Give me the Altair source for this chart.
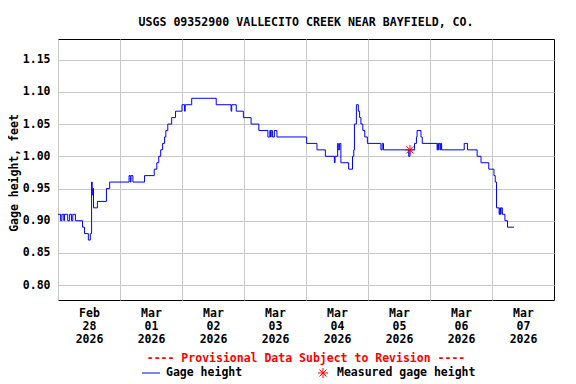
import altair as alt
import pandas as pd

TITLE = "USGS 09352900 VALLECITO CREEK NEAR BAYFIELD, CO."
Y_TITLE = "Gage height, feet"
NOTE = "---- Provisional Data Subject to Revision ----"
LEG_LINE = "Gage height"
LEG_POINT = "Measured gage height"

# Gage height (feet), step changes
gage_time = [
    "2026-02-28T00:00Z", "2026-02-28T01:00Z", "2026-02-28T01:30Z", "2026-02-28T02:15Z",
    "2026-02-28T02:30Z", "2026-02-28T03:45Z", "2026-02-28T04:30Z", "2026-02-28T05:15Z",
    "2026-02-28T05:45Z", "2026-02-28T06:45Z", "2026-02-28T09:30Z", "2026-02-28T10:15Z",
    "2026-02-28T11:45Z", "2026-02-28T12:30Z", "2026-02-28T13:00Z", "2026-02-28T13:15Z",
    "2026-02-28T13:30Z", "2026-02-28T13:45Z", "2026-02-28T15:15Z", "2026-02-28T18:45Z",
    "2026-02-28T20:00Z",
    "2026-03-01T03:30Z", "2026-03-01T04:00Z", "2026-03-01T04:15Z", "2026-03-01T05:00Z",
    "2026-03-01T09:30Z", "2026-03-01T13:15Z", "2026-03-01T14:15Z", "2026-03-01T15:00Z",
    "2026-03-01T15:45Z", "2026-03-01T16:30Z", "2026-03-01T17:15Z", "2026-03-01T17:45Z",
    "2026-03-01T18:30Z", "2026-03-01T20:00Z", "2026-03-01T21:30Z",
    "2026-03-02T00:00Z", "2026-03-02T01:00Z", "2026-03-02T01:15Z", "2026-03-02T03:45Z",
    "2026-03-02T13:15Z", "2026-03-02T19:00Z", "2026-03-02T19:15Z", "2026-03-02T21:00Z",
    "2026-03-02T23:45Z",
    "2026-03-03T02:45Z", "2026-03-03T05:45Z", "2026-03-03T09:15Z", "2026-03-03T10:00Z",
    "2026-03-03T10:15Z", "2026-03-03T10:30Z", "2026-03-03T11:00Z", "2026-03-03T11:45Z",
    "2026-03-03T12:45Z",
    "2026-03-04T00:15Z", "2026-03-04T04:15Z", "2026-03-04T07:30Z", "2026-03-04T11:00Z",
    "2026-03-04T11:15Z", "2026-03-04T12:15Z", "2026-03-04T12:30Z", "2026-03-04T13:00Z",
    "2026-03-04T13:30Z", "2026-03-04T16:30Z", "2026-03-04T18:00Z", "2026-03-04T18:30Z",
    "2026-03-04T18:45Z", "2026-03-04T19:30Z", "2026-03-04T20:15Z", "2026-03-04T20:45Z",
    "2026-03-04T21:15Z", "2026-03-04T22:00Z", "2026-03-04T22:45Z", "2026-03-04T23:45Z",
    "2026-03-05T05:00Z", "2026-03-05T05:30Z", "2026-03-05T06:00Z", "2026-03-05T15:45Z",
    "2026-03-05T16:15Z", "2026-03-05T18:00Z", "2026-03-05T18:45Z", "2026-03-05T19:00Z",
    "2026-03-05T20:30Z", "2026-03-05T21:00Z",
    "2026-03-06T02:45Z", "2026-03-06T03:00Z", "2026-03-06T03:15Z", "2026-03-06T03:30Z",
    "2026-03-06T04:00Z", "2026-03-06T04:15Z", "2026-03-06T04:30Z", "2026-03-06T13:15Z",
    "2026-03-06T14:30Z", "2026-03-06T18:15Z", "2026-03-06T19:45Z", "2026-03-06T22:45Z",
    "2026-03-07T00:45Z", "2026-03-07T01:15Z", "2026-03-07T01:45Z", "2026-03-07T02:45Z",
    "2026-03-07T03:00Z", "2026-03-07T03:15Z", "2026-03-07T03:30Z", "2026-03-07T04:00Z",
    "2026-03-07T05:00Z", "2026-03-07T06:00Z", "2026-03-07T08:30Z",
]
gage_value = [
    0.91, 0.90, 0.91, 0.90,
    0.91, 0.90, 0.91, 0.90,
    0.91, 0.90, 0.89, 0.88,
    0.87, 0.88, 0.96, 0.94,
    0.95, 0.92, 0.93, 0.95,
    0.96,
    0.97, 0.96, 0.97, 0.96,
    0.97, 0.98, 0.99, 1.00,
    1.01, 1.02, 1.03, 1.04,
    1.05, 1.06, 1.07,
    1.08, 1.07, 1.08, 1.09,
    1.08, 1.07, 1.08, 1.07,
    1.06,
    1.05, 1.04, 1.03, 1.04,
    1.03, 1.04, 1.03, 1.04,
    1.03,
    1.02, 1.01, 1.00, 0.99,
    1.00, 1.02, 1.01, 1.02,
    0.99, 0.98, 1.00, 1.01,
    1.05, 1.08, 1.07, 1.06,
    1.05, 1.04, 1.03, 1.02,
    1.01, 1.02, 1.01, 1.00,
    1.01, 1.02, 1.03, 1.04,
    1.03, 1.02,
    1.01, 1.02, 1.01, 1.02,
    1.01, 1.02, 1.01, 1.02,
    1.01, 1.00, 0.99, 0.98,
    0.97, 0.96, 0.92, 0.91,
    0.92, 0.91, 0.92, 0.91,
    0.90, 0.89, 0.89,
]

meas_time = ["2026-03-05T16:15Z"]
meas_value = [1.01]

y_ticks = [0.80, 0.85, 0.90, 0.95, 1.00, 1.05, 1.10, 1.15]
x_days = [(2, 28), (3, 1), (3, 2), (3, 3), (3, 4), (3, 5), (3, 6), (3, 7)]

FONT = "DejaVu Sans Mono"
FS = 11.5
STAR = "M-1,0L1,0M0,-1L0,1M-0.7,-0.7L0.7,0.7M-0.7,0.7L0.7,-0.7"

df = pd.DataFrame({"t": gage_time, "v": gage_value})
dfm = pd.DataFrame({"t": meas_time, "v": meas_value})
one = pd.DataFrame({"k": [0]})

x_scale = alt.Scale(
    type="utc",
    domain=[alt.DateTime(year=2026, month=2, date=28, utc=True),
            alt.DateTime(year=2026, month=3, date=8, utc=True)],
)
y_scale = alt.Scale(domain=[0.777, 1.182], nice=False, zero=False)

x_axis = alt.Axis(
    values=[alt.DateTime(year=2026, month=m, date=d, utc=True) for m, d in x_days],
    labelExpr="[utcFormat(datum.value, '%b'), utcFormat(datum.value, '%d'), utcFormat(datum.value, '%Y')]",
    labelOffset=31, labelPadding=7, labelLineHeight=13.3,
    labelOverlap=False, labelFlush=False,
    ticks=False, domain=False, grid=True, title=None,
)
y_axis = alt.Axis(
    values=y_ticks, format=".2f", ticks=False, domain=False, grid=True,
    labelPadding=8, labelOverlap=False, labelFlush=False,
    title=Y_TITLE, titlePadding=2.5, titleY=133.5,
)

X = alt.X("t:T", scale=x_scale, axis=x_axis)
Y = alt.Y("v:Q", scale=y_scale, axis=y_axis)

line = alt.Chart(df).mark_line(
    color="#0000FF", strokeWidth=1, interpolate="step-after"
).encode(x=X, y=Y)

meas = alt.Chart(dfm).mark_point(
    shape=STAR, filled=False, color="#FF0000", size=100, strokeWidth=1, opacity=1
).encode(x=X, y=Y)

note = alt.Chart(one).mark_text(
    text=NOTE, color="#FF0000", font=FONT, fontSize=FS, fontWeight="bold",
    align="center", baseline="middle"
).encode(x=alt.value(248), y=alt.value(320))

leg_rule = alt.Chart(one).mark_rule(color="#0000FF", strokeWidth=1).encode(
    x=alt.value(84), x2=alt.value(102), y=alt.value(334)
)
leg_txt1 = alt.Chart(one).mark_text(
    text=LEG_LINE, color="black", font=FONT, fontSize=FS, fontWeight="bold",
    align="left", baseline="middle"
).encode(x=alt.value(108), y=alt.value(334))
leg_star = alt.Chart(one).mark_point(
    shape=STAR, filled=False, color="#FF0000", size=100, strokeWidth=1, opacity=1
).encode(x=alt.value(265), y=alt.value(334))
leg_txt2 = alt.Chart(one).mark_text(
    text=LEG_POINT, color="black", font=FONT, fontSize=FS, fontWeight="bold",
    align="left", baseline="middle"
).encode(x=alt.value(279), y=alt.value(334))

chart = alt.layer(line, meas, note, leg_rule, leg_txt1, leg_star, leg_txt2).properties(
    width=496, height=261,
    background="white",
    autosize=alt.AutoSizeParams(type="none"),
    padding={"left": 50, "top": 31, "right": 14, "bottom": 80},
    title=alt.TitleParams(
        TITLE, font=FONT, fontSize=11.6, fontWeight="bold", color="black",
        anchor="middle", frame="group", offset=1, baseline="alphabetic",
    ),
).configure_view(
    stroke="black", strokeWidth=1
).configure_axis(
    gridColor="#C8C8C8", gridOpacity=1, gridWidth=1,
    labelFont=FONT, labelFontSize=FS, labelFontWeight="bold", labelColor="black",
    titleFont=FONT, titleFontSize=FS, titleFontWeight="bold", titleColor="black",
)

chart.save("out.html", embed_options={"renderer": "svg", "actions": False})
